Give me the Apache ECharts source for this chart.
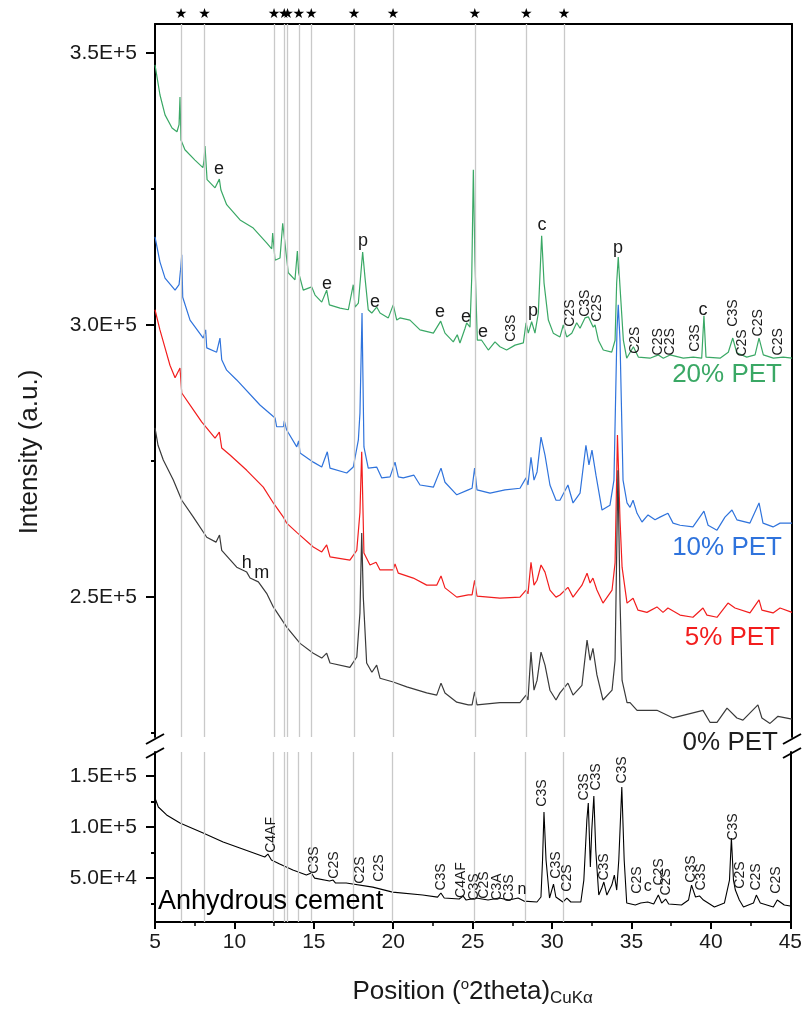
<!DOCTYPE html>
<html>
<head>
<meta charset="utf-8">
<script src="https://cdn.jsdelivr.net/npm/echarts@6/dist/echarts.min.js"></script>
<style>
  html, body { margin: 0; padding: 0; background: #fff; }
  #chart { width: 805px; height: 1015px; }
</style>
</head>
<body>
<div id="chart"></div>
<script>
// 2theta (deg) vs intensity (thousand counts)
const pet20 = [[5.00,347.8],[5.31,342.3],[5.63,338.6],[6.07,336.2],[6.38,335.5],[6.51,336.8],[6.57,341.9],[6.63,334.0],[6.88,332.2],[7.51,330.3],[8.01,328.9],[8.08,330.3],[8.14,332.9],[8.27,326.7],[8.77,325.2],[9.04,326.8],[9.14,324.8],[9.50,322.1],[10.34,319.3],[11.17,317.8],[12.01,315.1],[12.33,314.0],[12.39,316.9],[12.54,311.9],[12.85,312.3],[13.02,318.7],[13.10,318.7],[13.23,313.2],[13.37,309.6],[13.79,308.3],[13.94,313.6],[14.02,309.6],[14.31,306.4],[14.84,307.0],[15.05,305.5],[15.47,304.2],[15.78,306.4],[15.95,303.7],[16.62,303.1],[17.14,302.8],[17.45,307.4],[17.56,303.3],[17.77,304.0],[18.04,313.4],[18.19,308.6],[18.39,302.8],[18.61,302.2],[18.92,303.3],[19.13,302.2],[19.65,301.3],[19.96,303.7],[20.18,300.9],[20.38,301.3],[21.01,300.9],[21.64,299.1],[22.48,298.5],[22.94,300.7],[23.21,298.5],[23.73,296.9],[23.98,298.2],[24.15,296.7],[24.47,299.4],[24.57,300.4],[24.78,299.6],[24.89,308.8],[24.99,328.5],[25.09,311.9],[25.24,297.2],[25.51,297.2],[25.93,295.4],[26.35,296.9],[26.66,296.0],[27.08,295.4],[27.61,296.3],[28.13,296.7],[28.30,300.4],[28.44,298.5],[28.65,300.6],[28.86,298.5],[29.07,302.2],[29.28,316.4],[29.43,307.7],[29.70,300.9],[30.01,298.5],[30.43,297.8],[30.64,300.0],[30.85,297.8],[31.17,298.5],[31.48,300.4],[31.69,299.4],[32.00,301.3],[32.21,301.5],[32.52,299.6],[32.63,300.0],[32.84,297.2],[33.15,295.4],[33.68,295.0],[33.89,297.2],[33.99,307.7],[34.09,312.5],[34.20,307.0],[34.41,297.2],[34.62,293.9],[35.04,296.0],[35.35,294.1],[36.08,293.9],[36.61,294.5],[36.92,293.9],[37.34,294.5],[38.17,293.9],[38.80,294.1],[39.33,293.9],[39.47,301.7],[39.60,294.1],[40.48,293.9],[41.00,295.0],[41.28,297.6],[41.53,294.9],[42.16,294.1],[42.68,294.5],[42.93,297.6],[43.20,294.5],[43.83,293.9],[44.45,294.1],[45.00,293.9]];

const pet10 = [[5.00,316.2],[5.31,311.6],[5.63,308.6],[6.26,306.4],[6.51,307.4],[6.61,310.3],[6.68,312.9],[6.74,305.1],[7.20,300.9],[8.03,297.6],[8.18,299.1],[8.25,295.8],[8.87,295.0],[9.08,297.6],[9.19,293.6],[9.50,291.7],[10.13,289.9],[11.59,285.3],[12.54,282.9],[12.64,281.3],[13.06,281.3],[13.12,282.4],[13.27,280.7],[13.90,277.6],[14.02,278.7],[14.11,276.5],[14.94,274.8],[15.47,273.9],[15.82,276.7],[15.99,273.7],[17.04,272.8],[17.45,273.9],[17.77,278.9],[17.87,283.8],[18.00,302.2],[18.12,277.6],[18.39,273.7],[18.92,273.9],[19.24,271.9],[19.76,272.1],[20.07,274.8],[20.28,272.1],[20.59,271.9],[21.26,272.4],[21.64,270.6],[22.48,270.2],[22.96,273.7],[23.21,271.1],[23.95,268.8],[24.67,269.7],[24.91,270.0],[25.07,273.7],[25.22,269.7],[26.04,269.1],[26.98,269.7],[27.92,270.0],[28.30,271.9],[28.42,270.6],[28.61,275.7],[28.80,271.5],[28.99,273.0],[29.24,279.4],[29.49,276.1],[29.80,270.6],[30.18,267.8],[30.43,267.8],[30.93,270.6],[31.25,267.3],[31.69,269.1],[32.06,277.9],[32.25,274.3],[32.44,277.0],[32.69,272.4],[33.07,266.0],[33.57,266.9],[33.82,271.5],[34.01,299.1],[34.09,303.7],[34.20,297.2],[34.39,271.5],[34.64,267.3],[34.83,266.5],[35.02,267.8],[35.27,265.4],[35.58,263.8],[35.96,265.1],[36.40,264.2],[36.71,264.7],[37.21,265.4],[37.53,263.6],[37.97,263.2],[38.78,262.9],[39.47,265.8],[39.73,263.2],[40.29,262.3],[40.79,264.7],[41.23,266.0],[41.54,264.2],[42.36,263.6],[42.93,267.3],[43.18,263.6],[43.81,262.9],[44.25,263.6],[45.00,263.6]];

const pet5 = [[5.00,302.8],[5.31,299.1],[5.63,295.8],[5.94,292.6],[6.26,290.3],[6.57,292.1],[6.68,287.5],[7.41,284.4],[7.93,282.2],[8.77,279.2],[9.04,280.3],[9.19,277.4],[9.71,276.1],[10.76,273.3],[11.80,270.2],[12.43,267.3],[13.06,264.7],[13.27,263.6],[13.90,261.9],[14.94,259.2],[15.47,258.3],[15.78,259.6],[15.99,257.4],[17.24,256.8],[17.67,258.6],[17.87,265.6],[17.98,276.7],[18.12,258.1],[18.50,255.9],[18.88,256.4],[19.13,255.0],[19.96,255.0],[20.07,256.1],[20.28,254.4],[21.22,253.5],[22.06,252.2],[22.69,252.2],[22.96,253.9],[23.21,251.7],[23.95,250.0],[24.67,250.4],[24.91,250.4],[25.07,253.1],[25.22,250.2],[26.66,249.8],[27.92,250.0],[28.30,251.3],[28.42,250.6],[28.61,256.4],[28.80,252.2],[28.99,253.1],[29.24,255.9],[29.49,254.6],[29.80,251.3],[30.18,250.0],[30.43,250.4],[30.93,251.8],[31.25,250.0],[31.81,252.2],[32.13,254.4],[32.32,252.6],[32.50,253.5],[32.75,251.3],[33.13,248.9],[33.70,251.3],[33.89,256.3],[34.04,279.8],[34.20,264.2],[34.33,255.5],[34.64,248.9],[35.02,249.8],[35.33,247.6],[35.89,247.2],[36.52,248.2],[36.90,247.2],[37.21,248.0],[37.97,246.7],[38.78,246.3],[39.41,248.0],[39.66,246.7],[40.29,246.3],[40.98,248.9],[41.42,248.0],[42.36,247.1],[42.93,249.5],[43.11,247.6],[43.81,247.1],[44.25,248.0],[45.00,247.2]];

const pet0 = [[5.00,281.1],[5.19,277.9],[5.52,275.2],[6.15,271.5],[6.68,267.8],[7.41,264.7],[8.25,261.0],[8.83,260.1],[9.05,261.4],[9.19,258.6],[10.13,255.5],[10.76,254.6],[10.97,253.5],[11.49,252.8],[12.01,250.7],[12.43,248.2],[13.27,244.5],[14.11,241.5],[14.94,239.7],[15.47,238.8],[15.78,239.7],[15.99,237.9],[17.24,237.1],[17.67,239.0],[17.87,247.1],[17.98,261.8],[18.08,250.0],[18.29,237.9],[18.62,236.2],[18.92,237.5],[19.13,235.1],[19.96,234.4],[20.81,233.5],[22.06,232.4],[22.69,232.0],[22.96,234.2],[23.21,232.4],[23.95,230.7],[24.67,230.2],[24.91,230.2],[25.07,232.6],[25.22,230.2],[26.66,230.6],[27.92,230.6],[28.30,232.0],[28.42,231.1],[28.61,239.9],[28.80,232.9],[28.99,234.7],[29.24,239.9],[29.49,237.5],[29.80,232.9],[30.18,231.1],[30.43,232.4],[30.93,234.2],[31.25,232.0],[31.81,233.8],[32.13,242.1],[32.32,238.4],[32.50,240.6],[32.75,235.7],[33.13,231.1],[33.70,232.9],[33.89,238.4],[34.07,273.3],[34.20,249.5],[34.33,234.7],[34.64,230.6],[34.83,230.6],[35.27,229.2],[36.52,229.2],[37.53,227.8],[39.41,229.2],[39.85,227.0],[40.29,227.0],[40.92,229.6],[41.54,227.8],[41.92,227.4],[42.86,230.2],[43.11,227.8],[43.62,226.8],[44.12,228.1],[45.00,227.6]];

const anhydrous = [[5.00,128.4],[5.21,119.6],[5.73,111.8],[6.57,103.9],[8.03,94.1],[9.29,85.3],[10.34,79.4],[11.39,73.5],[11.91,70.6],[12.11,73.5],[12.33,67.6],[12.85,63.7],[13.68,57.8],[14.53,52.9],[14.84,54.9],[15.05,49.9],[15.99,47.0],[16.21,48.0],[16.37,45.1],[17.04,45.1],[18.71,41.1],[19.96,36.2],[21.85,33.3],[22.79,31.3],[23.00,35.3],[23.21,30.4],[24.15,29.4],[24.40,32.3],[24.59,28.4],[25.22,30.4],[25.97,28.4],[26.66,30.4],[27.29,28.4],[27.86,30.4],[28.23,27.4],[29.05,26.5],[29.30,31.4],[29.40,67.6],[29.49,114.7],[29.62,67.6],[29.84,30.4],[30.09,44.1],[30.24,31.4],[30.68,26.5],[30.93,30.4],[31.18,26.5],[31.81,26.5],[32.00,48.0],[32.19,106.9],[32.28,123.5],[32.41,60.8],[32.50,97.1],[32.63,130.4],[32.75,77.5],[32.94,33.3],[33.13,40.2],[33.26,46.1],[33.45,33.3],[33.76,43.1],[33.92,52.9],[34.07,38.2],[34.20,67.6],[34.39,139.2],[34.54,67.6],[34.70,25.5],[35.24,23.5],[35.58,25.5],[36.02,26.5],[36.40,24.5],[36.69,33.3],[36.90,25.5],[37.15,29.4],[37.34,24.5],[38.15,23.5],[38.59,28.4],[38.78,43.1],[39.03,31.4],[39.28,32.4],[39.53,28.4],[40.22,21.6],[40.85,25.5],[41.17,48.0],[41.29,89.2],[41.42,48.0],[41.54,38.2],[41.79,28.4],[42.05,21.6],[42.68,25.5],[42.86,33.3],[43.11,25.5],[43.93,21.6],[44.18,28.4],[44.62,23.5],[45.00,22.5]];

// reference lines marked with a star
const starLines = [6.63, 8.11, 12.47, 13.11, 13.32, 14.03, 14.82, 17.49, 19.95, 25.08, 28.31, 30.68];

// y ticks (thousand counts)
const upperTicks = [250, 300, 350];
const upperMinor = [225, 275, 325];
const lowerTicks = [50, 100, 150];
const lowerMinor = [25, 75, 125];

// peak letters on the hydrated patterns [2theta, intensity, text]
const peakLetters = [
  [9.02, 328.7, 'e'], [18.06, 315.4, 'p'], [15.80, 307.5, 'e'], [18.81, 304.2, 'e'],
  [22.90, 302.4, 'e'], [24.53, 301.5, 'e'], [25.60, 298.7, 'e'], [28.74, 302.6, 'p'],
  [29.30, 318.4, 'c'], [34.07, 314.2, 'p'], [39.41, 302.8, 'c'],
  [10.76, 256.3, 'h'], [11.70, 254.4, 'm']
];
// phase labels on the 20% PET pattern (rotated)
const phasesUpper = [
  [27.35, 299.4, 'C3S'], [31.06, 302.2, 'C2S'], [32.00, 304.0, 'C3S'], [32.75, 303.1, 'C2S'],
  [35.14, 297.2, 'C2S'], [36.58, 296.9, 'C2S'], [37.34, 296.9, 'C2S'], [38.91, 297.6, 'C3S'],
  [41.29, 302.2, 'C3S'], [41.86, 296.7, 'C2S'], [42.86, 300.4, 'C2S'], [44.12, 296.9, 'C2S']
];
// phase labels on the anhydrous cement pattern (rotated)
const phasesLower = [
  [12.33, 92.2, 'C4AF'], [15.05, 67.6, 'C3S'], [16.30, 62.7, 'C2S'], [17.92, 57.8, 'C2S'],
  [19.13, 59.8, 'C2S'], [23.00, 51.0, 'C3S'], [24.28, 48.0, 'C4AF'], [25.07, 41.2, 'C3S'],
  [25.72, 43.1, 'C2S'], [26.54, 41.2, 'C3A'], [27.29, 40.2, 'C3S'], [29.36, 133.3, 'C3S'],
  [30.24, 62.7, 'C3S'], [30.93, 50.0, 'C2S'], [32.00, 139.2, 'C3S'], [32.75, 149.0, 'C3S'],
  [33.26, 60.8, 'C3S'], [34.39, 155.9, 'C3S'], [35.33, 48.0, 'C2S'], [36.71, 55.9, 'C2S'],
  [37.21, 46.1, 'C2S'], [38.78, 58.8, 'C3S'], [39.41, 51.0, 'C3S'], [41.42, 100.0, 'C3S'],
  [41.86, 52.9, 'C2S'], [42.86, 51.0, 'C2S'], [44.12, 48.0, 'C2S']
];
const lowerLetters = [[28.11, 38.2, 'n'], [36.02, 41.2, 'c']];

const sampleNames = ['20% PET', '10% PET', '5% PET', '0% PET'];
const sampleColors = ['#3aa865', '#2f73dc', '#f21d1d', '#3a3a3a'];
const sampleTextColors = ['#3aa865', '#2f73dc', '#f21d1d', '#1e1e1e'];
const sampleLabelPos = [[44.37, 290.8], [44.37, 259.0], [44.25, 242.6], [44.12, 224.3]];

const font = "'Liberation Sans', Arial, sans-serif";
const chart = echarts.init(document.getElementById('chart'), null, { renderer: 'canvas' });

const fmt = v => (v * 1000).toExponential(1).toUpperCase();
const toItems = arr => arr.map(d => ({ value: [d[0], d[1]], name: d[2] }));
// scatter defaults to 0.8 opacity, which would also fade the labels
const hidden = { color: 'rgba(0,0,0,0)', opacity: 1 };

function textSeries(data, x, y, size, rotate, color) {
  return {
    type: 'scatter', xAxisIndex: x, yAxisIndex: y, data: toItems(data),
    symbolSize: 1, itemStyle: hidden, silent: true, clip: false, z: 5,
    label: {
      show: true, position: 'inside', formatter: '{b}', rotate: rotate,
      color: color || '#1a1a1a', fontSize: size, fontFamily: font
    }
  };
}

function yAx(grid, min, max, pos, opts) {
  return Object.assign({
    type: 'value', gridIndex: grid, min: min, max: max, position: pos,
    splitLine: { show: false },
    axisLine: { show: false },
    axisTick: { show: false },
    axisLabel: { show: false }
  }, opts);
}

const axisLine = { show: true, lineStyle: { color: '#000', width: 2 } };
const U = [224.3, 355.3];
const L = [6.9, 173.5];

const traces = [pet20, pet10, pet5, pet0];

const option = {
  animation: false,
  backgroundColor: '#fff',
  grid: [
    { left: 155, top: 24, width: 637, height: 713 },
    { left: 155, top: 752, width: 637, height: 170 }
  ],
  xAxis: [
    { type: 'value', gridIndex: 0, min: 5, max: 45, position: 'top',
      axisLine: axisLine, axisTick: { show: false }, axisLabel: { show: false }, splitLine: { show: false } },
    { type: 'value', gridIndex: 1, min: 5, max: 45, interval: 5, position: 'bottom',
      axisLine: axisLine,
      axisTick: { show: true, length: 7, lineStyle: { color: '#000', width: 2 } },
      minorTick: { show: true, splitNumber: 2, length: 4, lineStyle: { color: '#000', width: 1.5 } },
      axisLabel: { color: '#1a1a1a', fontSize: 21, fontFamily: font, margin: 10 },
      splitLine: { show: false },
      name: '{t|Position (}{sup|o}{t|2theta)}{sub|CuKα}',
      nameLocation: 'middle', nameGap: 54,
      nameTextStyle: {
        rich: {
          t: { fontSize: 26, fontFamily: font, color: '#1a1a1a' },
          sup: { fontSize: 15, fontFamily: font, color: '#1a1a1a', padding: [0, 0, 14, 0] },
          sub: { fontSize: 17, fontFamily: font, color: '#1a1a1a', padding: [14, 0, 0, 0] }
        }
      } }
  ],
  yAxis: [
    yAx(0, U[0], U[1], 'left', {
      axisLine: axisLine,
      axisTick: { show: true, length: 9, customValues: upperTicks, lineStyle: { color: '#000', width: 2 } },
      axisLabel: { show: true, customValues: upperTicks, formatter: fmt, margin: 18, color: '#1a1a1a', fontSize: 21, fontFamily: font }
    }),
    yAx(0, U[0], U[1], 'left', {
      axisTick: { show: true, length: 4, customValues: upperMinor, lineStyle: { color: '#000', width: 2 } }
    }),
    yAx(0, U[0], U[1], 'right', { axisLine: axisLine }),
    yAx(1, L[0], L[1], 'left', {
      axisLine: axisLine,
      axisTick: { show: true, length: 9, customValues: lowerTicks, lineStyle: { color: '#000', width: 2 } },
      axisLabel: { show: true, customValues: lowerTicks, formatter: fmt, margin: 18, color: '#1a1a1a', fontSize: 21, fontFamily: font }
    }),
    yAx(1, L[0], L[1], 'left', {
      axisTick: { show: true, length: 4, customValues: lowerMinor, lineStyle: { color: '#000', width: 2 } }
    }),
    yAx(1, L[0], L[1], 'right', { axisLine: axisLine })
  ],
  series: [
    // grey reference lines
    { type: 'line', xAxisIndex: 0, yAxisIndex: 0, data: [], silent: true, z: 1,
      markLine: { silent: true, symbol: 'none', label: { show: false },
        lineStyle: { color: '#c9c9c9', width: 1.3, type: 'solid' },
        data: starLines.map(v => ({ xAxis: v })) } },
    { type: 'line', xAxisIndex: 1, yAxisIndex: 3, data: [], silent: true, z: 1,
      markLine: { silent: true, symbol: 'none', label: { show: false },
        lineStyle: { color: '#c9c9c9', width: 1.3, type: 'solid' },
        data: starLines.map(v => ({ xAxis: v })) } },
    // stars above the frame
    { type: 'scatter', xAxisIndex: 0, yAxisIndex: 0, clip: false, silent: true,
      data: starLines.map(v => [v, U[1]]), symbolSize: 1, itemStyle: hidden,
      label: { show: true, position: 'top', distance: 2, formatter: '★', color: '#000', fontSize: 14, fontFamily: 'DejaVu Sans' } },
    // patterns
    ...traces.map((d, i) => ({
      type: 'line', name: sampleNames[i], xAxisIndex: 0, yAxisIndex: 0, data: d,
      showSymbol: false, symbol: 'none', z: 2 + i * 0.1, silent: true,
      lineStyle: { color: sampleColors[i], width: 1.2 }
    })),
    { type: 'line', name: 'Anhydrous cement', xAxisIndex: 1, yAxisIndex: 3, data: anhydrous,
      showSymbol: false, symbol: 'none', z: 2, silent: true,
      lineStyle: { color: '#000', width: 1.1 } },
    // annotations
    textSeries(peakLetters, 0, 0, 18, 0),
    textSeries(phasesUpper, 0, 0, 14, 90),
    textSeries(phasesLower, 1, 3, 14, 90),
    textSeries(lowerLetters, 1, 3, 16, 0),
    { type: 'scatter', xAxisIndex: 0, yAxisIndex: 0, clip: false, silent: true, z: 5,
      symbolSize: 1, itemStyle: hidden,
      data: sampleNames.map((n, i) => ({
        value: sampleLabelPos[i], name: n,
        label: { color: sampleTextColors[i], offset: i === 3 ? [0, 6] : [0, 0] }
      })),
      label: { show: true, position: 'inside', align: 'right', formatter: '{b}', fontSize: 26, fontFamily: font } },
    { type: 'scatter', xAxisIndex: 1, yAxisIndex: 3, clip: false, silent: true, z: 5,
      symbolSize: 1, itemStyle: hidden,
      data: [{ value: [5.19, 26.5], name: 'Anhydrous cement' }],
      label: { show: true, position: 'inside', align: 'left', formatter: '{b}', color: '#000', fontSize: 27, fontFamily: font } }
  ],
  graphic: [
    { type: 'text', x: 30, y: 452, rotation: Math.PI / 2,
      style: { text: 'Intensity (a.u.)', fill: '#1a1a1a', font: '26px ' + font,
        textAlign: 'center', textVerticalAlign: 'middle', align: 'center', verticalAlign: 'middle' } },
    // axis break marks
    { type: 'line', shape: { x1: 146, y1: 744, x2: 164, y2: 734 }, style: { stroke: '#000', lineWidth: 2 } },
    { type: 'line', shape: { x1: 146, y1: 758, x2: 164, y2: 748 }, style: { stroke: '#000', lineWidth: 2 } },
    { type: 'line', shape: { x1: 783, y1: 744, x2: 801, y2: 734 }, style: { stroke: '#000', lineWidth: 2 } },
    { type: 'line', shape: { x1: 783, y1: 758, x2: 801, y2: 748 }, style: { stroke: '#000', lineWidth: 2 } }
  ]
};

chart.setOption(option);
window.addEventListener('resize', () => chart.resize());
</script>
</body>
</html>
